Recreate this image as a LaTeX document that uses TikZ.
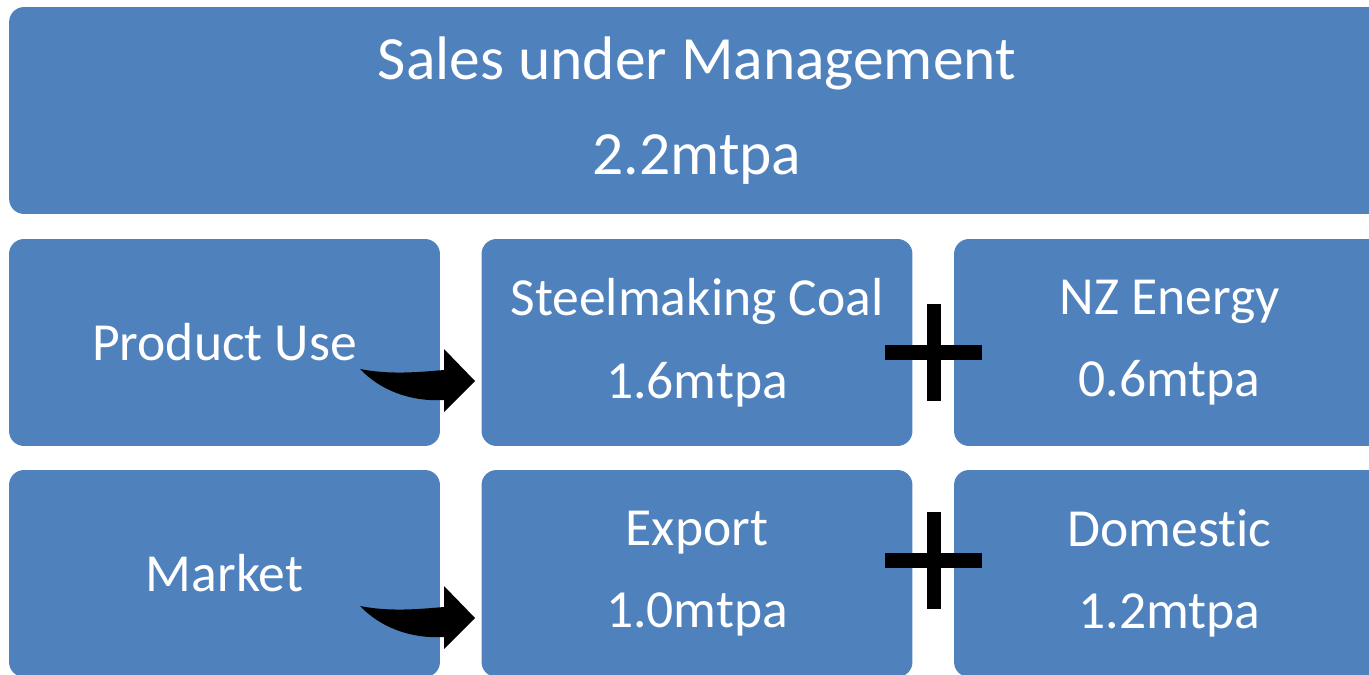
\documentclass[tikz,border=0pt]{standalone}
\usepackage{fontspec}
\setmainfont[Ligatures=NoCommon]{Carlito}
\usepackage{tikz}
\usetikzlibrary{positioning,calc}

\definecolor{officeblue}{HTML}{4F81BD}

\tikzset{
  box/.style={fill=officeblue, rounded corners=0.3cm, text=white, align=center,
    minimum width=8.62cm, minimum height=4.14cm, inner sep=0pt,
    font=\fontsize{30.5}{47}\selectfont},
  bigbox/.style={box, minimum width=27.52cm, font=\fontsize{35}{54.5}\selectfont},
  plusbar/.style={fill=black}
}

\begin{document}
\begin{tikzpicture}[x=0.02cm,y=-0.02cm]
  \useasboundingbox (0,0) rectangle (1369,675);
  \clip (0,0) rectangle (1369,675);
           % boxes
           \node[bigbox] (sales) at (697,110.5) {Sales under Management\\2.2mtpa};
           \node[box] (product)  at (224.5,342.5) {Product Use};
           \node[box] (steel)    at (697,342.5)   {Steelmaking Coal\\1.6mtpa};
           \node[box] (nzenergy) at (1169.5,342.5) {NZ Energy\\0.6mtpa};
           \node[box] (market)   at (224.5,573.5) {Market};
           \node[box] (export)   at (697,573.5)   {Export\\1.0mtpa};
           \node[box] (domestic) at (1169.5,573.5) {Domestic\\1.2mtpa};
           % curved arrows
           \foreach \dy in {0,237} {
             \fill[black, yshift=-\dy*0.02cm] (360,369) .. controls (390,375) and (420,372) .. (444,370)
               -- (444,349) -- (475,381) -- (444,412) -- (444,400)
               .. controls (410,402) and (380,390) .. cycle;
           }
           % plus signs
           \foreach \cy in {352.5,560.5} {
             \fill[plusbar] (885,\cy-7.5) rectangle (982,\cy+7.5);
             \fill[plusbar] (926.5,\cy-48.5) rectangle (941,\cy+48.5);
           }
\end{tikzpicture}
\end{document}
